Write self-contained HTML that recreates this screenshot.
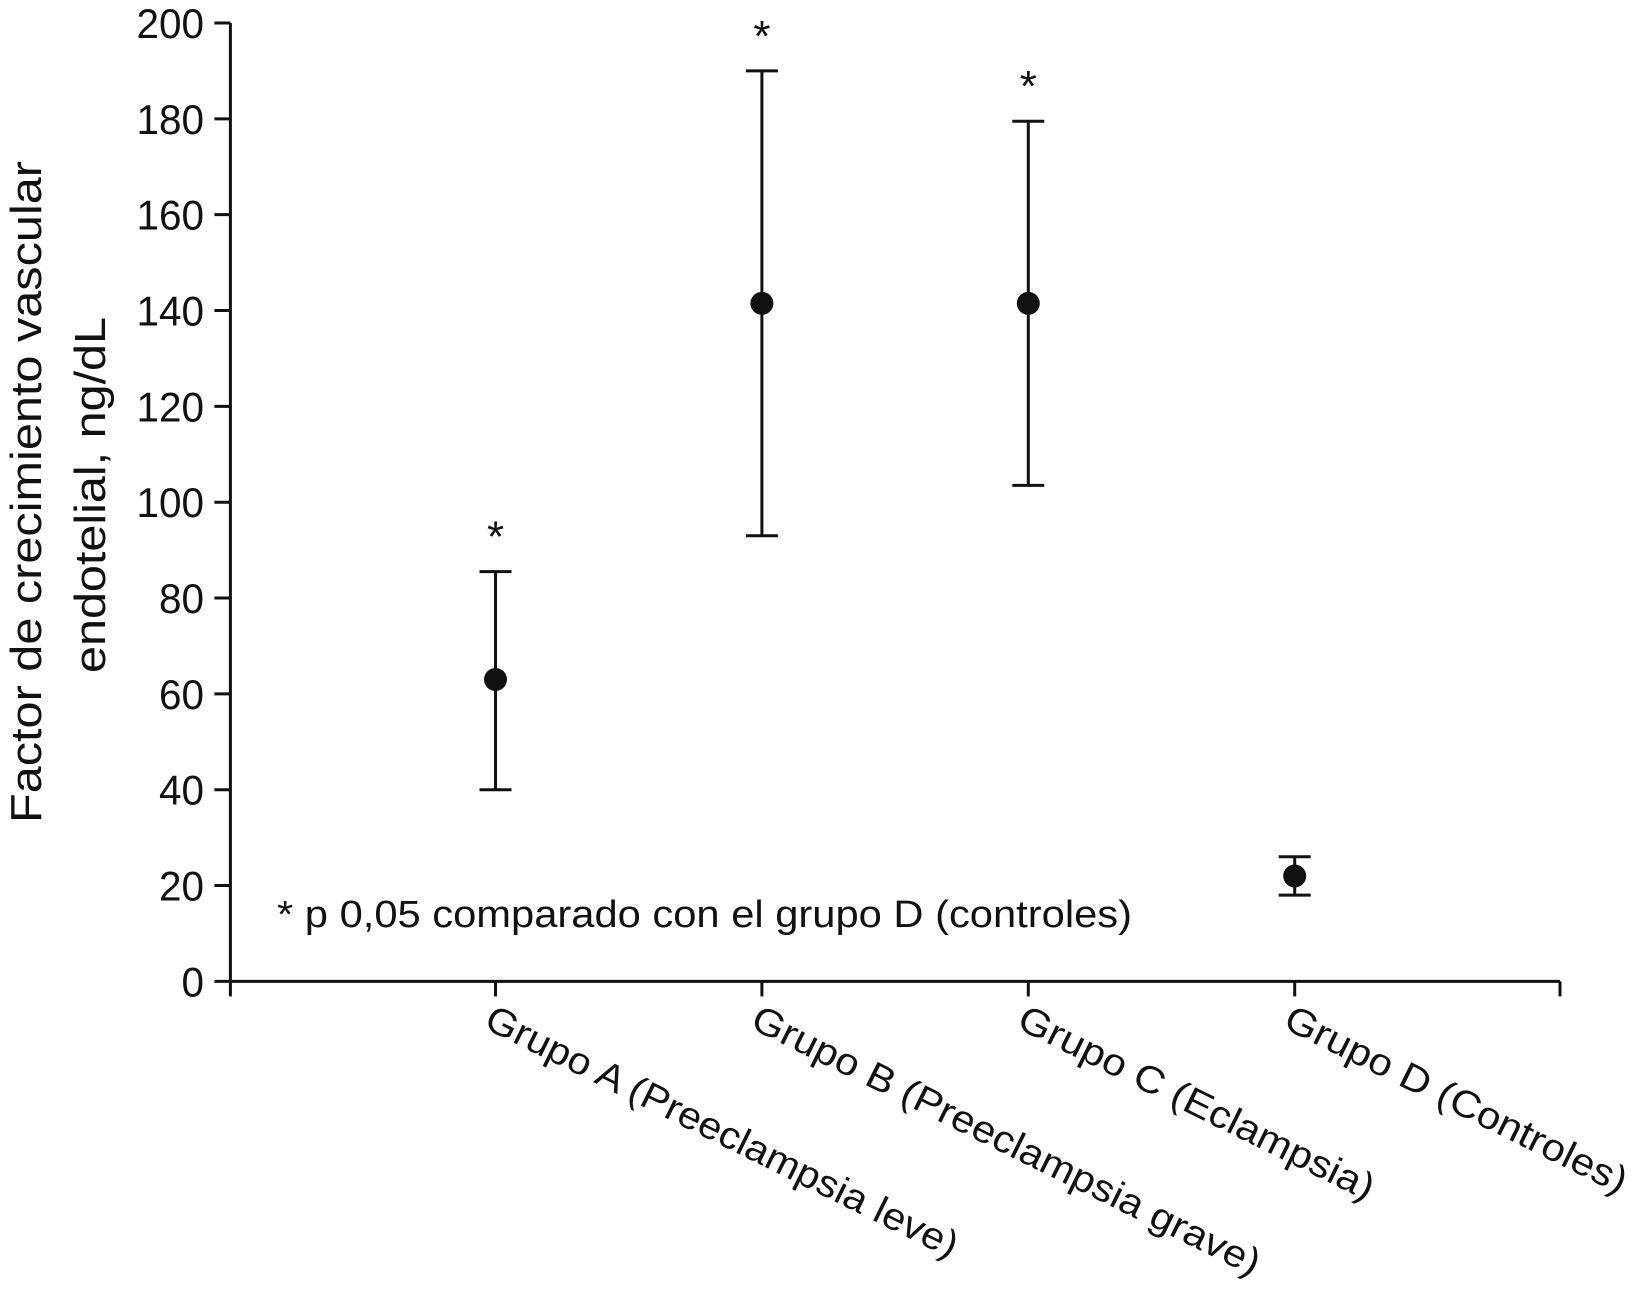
<!DOCTYPE html>
<html><head><meta charset="utf-8"><style>body{margin:0;background:#fff}svg{display:block}text{font-family:"Liberation Sans",sans-serif;fill:#111}</style></head>
<body>
<svg id="chart" width="1634" height="1301" viewBox="0 0 1634 1301"></svg>
<script>
const categories=["Grupo A (Preeclampsia leve)","Grupo B (Preeclampsia grave)","Grupo C (Eclampsia)","Grupo D (Controles)"];
const means=[63,141.5,141.5,22];
const lows=[40,93,103.5,18];
const highs=[85.5,190,179.5,26];
const signif=[true,true,true,false];
const yTicks=[0,20,40,60,80,100,120,140,160,180,200];
const labelLens=[522,562,392,377];
const NS="http://www.w3.org/2000/svg";
const svg=document.getElementById('chart');
const X0=230.4,X1=1560,Y0=981.4,Y200=23;
const y=v=>Y0+(Y200-Y0)*v/200;
const x=i=>495.5+i*266.4;
function el(t,a,txt){const e=document.createElementNS(NS,t);for(const k in a)e.setAttribute(k,a[k]);if(txt!=null)e.textContent=txt;svg.appendChild(e);return e;}
const st={stroke:"#111","stroke-width":3,fill:"none"};
let e=el('line',Object.assign({x1:X0,y1:Y200,x2:X0,y2:Y0},st));

e=el('line',Object.assign({x1:X0,y1:Y0,x2:X1,y2:Y0},st));

e=el('line',Object.assign({x1:X1,y1:Y0,x2:X1,y2:Y0+15},st));

e=el('line',Object.assign({x1:X0,y1:Y0,x2:X0,y2:Y0+15},st));

yTicks.forEach(v=>{
 e=el('line',Object.assign({x1:X0-16,y1:y(v),x2:X0,y2:y(v)},st));
 
 e=el('text',{x:204,y:y(v)+15,'text-anchor':'end','font-size':42,textLength:String(v).length*22.5,lengthAdjust:'spacingAndGlyphs'},String(v));
 
});
categories.forEach((c,i)=>{
 const cx=x(i);
 e=el('line',Object.assign({x1:cx,y1:Y0,x2:cx,y2:Y0+15},st));
 
 e=el('text',{x:cx-13,y:Y0+46,'font-size':38,textLength:labelLens[i],lengthAdjust:'spacingAndGlyphs',transform:`rotate(26.3 ${cx-13} ${Y0+46})`},c);
 
 e=el('line',Object.assign({x1:cx,y1:y(lows[i]),x2:cx,y2:y(highs[i])},st));
 
 e=el('line',Object.assign({x1:cx-16,y1:y(highs[i]),x2:cx+16,y2:y(highs[i])},st));
 
 e=el('line',Object.assign({x1:cx-16,y1:y(lows[i]),x2:cx+16,y2:y(lows[i])},st));
 
 e=el('circle',{cx:cx,cy:y(means[i]),r:11.5,fill:"#111"});
 
 if(signif[i]){
  e=el('text',{x:cx,y:y(highs[i])-20,'text-anchor':'middle','font-size':44},'*');
  
 }
});
e=el('text',{x:277,y:927,'font-size':38,textLength:855,lengthAdjust:'spacingAndGlyphs'},'* p 0,05 comparado con el grupo D (controles)');

e=el('text',{x:0,y:0,'text-anchor':'middle','font-size':44,textLength:662,lengthAdjust:'spacingAndGlyphs',transform:'translate(41 492) rotate(-90)'},'Factor de crecimiento vascular');

e=el('text',{x:0,y:0,'text-anchor':'middle','font-size':44,textLength:356,lengthAdjust:'spacingAndGlyphs',transform:'translate(105 495) rotate(-90)'},'endotelial, ng/dL');

</script>
</body></html>
